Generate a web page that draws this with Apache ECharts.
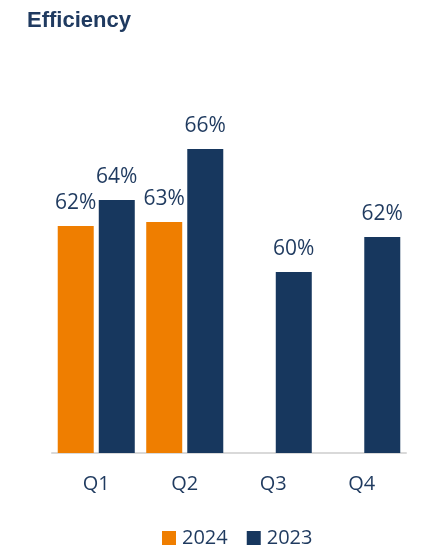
<!DOCTYPE html>
<html>
<head>
<meta charset="utf-8">
<script src="https://cdn.jsdelivr.net/npm/echarts@6/dist/echarts.min.js"></script>
<style>html,body{margin:0;padding:0;background:#fff}#c{width:439px;height:547px}</style>
</head>
<body>
<div id="c"></div>
<script>
var categories = ['Q1', 'Q2', 'Q3', 'Q4'];
var values2024 = [62.35, 62.55, null, null];
var values2023 = [63.65, 66.2, 60.05, 61.8];
var seriesNames = ['2024', '2023'];

var navy = '#17375E';
var orange = '#EF7E00';
var textColor = '#1F3A5F';
var font = 'Open Sans';

var chart = echarts.init(document.getElementById('c'), null, {renderer: 'canvas'});
var labelCfg = {
  show: true,
  position: 'top',
  distance: 12,
  color: textColor,
  fontFamily: font,
  fontSize: 21,
  formatter: function (p) { return p.value == null ? '' : Math.round(p.value) + '%'; }
};
chart.setOption({
  animation: false,
  title: {
    text: 'Efficiency',
    left: 22,
    top: 5,
    textStyle: {fontFamily: 'Liberation Sans', fontWeight: 'bold', fontSize: 22, color: '#1F3A60'}
  },
  legend: {
    data: seriesNames,
    left: 157,
    top: 523,
    icon: 'rect',
    itemWidth: 14,
    itemHeight: 14,
    itemGap: 19,
    textStyle: {fontFamily: font, fontSize: 20, color: textColor, padding: [0, 0, 0, 1]}
  },
  grid: {left: 52, right: 33, top: 53, bottom: 94},
  xAxis: {
    type: 'category',
    data: categories,
    axisLine: {lineStyle: {color: '#D9D9D9', width: 2}},
    axisTick: {show: false},
    axisLabel: {fontFamily: font, fontSize: 20, color: textColor, margin: 21}
  },
  yAxis: {
    type: 'value',
    min: 51,
    max: 71,
    show: false,
    splitLine: {show: false}
  },
  series: [
    {name: seriesNames[0], type: 'bar', data: values2024, barWidth: 36, barGap: '14%',
     itemStyle: {color: orange}, label: labelCfg},
    {name: seriesNames[1], type: 'bar', data: values2023, barWidth: 36, barGap: '14%',
     itemStyle: {color: navy}, label: labelCfg}
  ]
});
</script>
</body>
</html>
